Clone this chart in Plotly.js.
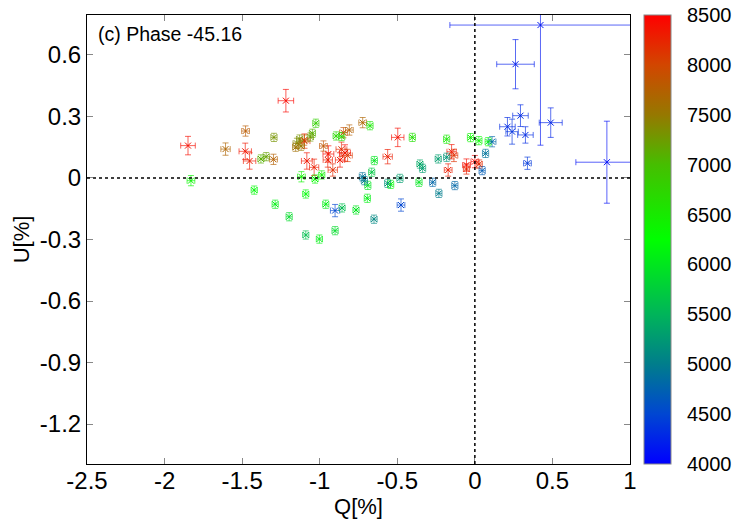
<!DOCTYPE html>
<html><head><meta charset="utf-8">
<script src="https://cdn.plot.ly/plotly-3.0.1.min.js"></script>
<style>body{margin:0;background:#fff}#chart{width:747px;height:523px}</style>
</head><body><div id="chart"></div>
<script>
// Q[%], U[%], errors and wavelength (colour)
const Q  = [-1.218,-1.849,-1.48,-1.452,-1.098,-1.083,-1.036,-0.944,-0.948,-0.916,-0.837,-0.869,-0.86,-0.82,-0.497,-0.562,-0.15,-0.172,-0.054,-0.054,0.0,0.028,-0.135,
 -1.478,-1.607,-1.298,-0.976,-0.847,-0.809,-0.723,-1.1,
 -1.295,-1.379,-1.345,-1.147,-1.13,-1.12,-1.155,-1.047,-1.06,
 -1.025,-0.894,-0.858,-0.676,-0.403,-0.182,-0.028,0.026,0.086,-0.648,-1.83,-1.422,-1.287,-1.197,-1.118,-1.09,-1.03,-0.987,-0.961,-0.766,-0.693,-0.69,-0.543,-0.36,-1.002,-0.901,
 -1.09,-0.856,-0.665,-0.354,-0.337,
 -0.65,-0.562,-0.483,-0.725,-0.712,-0.236,-0.182,-0.232,-0.272,-0.129,0.069,0.047,0.111,
 -0.901,-0.476,0.423,0.262,0.294,0.21,0.24,0.326,0.489,0.339,0.851];
const U  = [0.377,0.158,0.130,0.083,0.18,0.083,0.052,0.117,0.088,0.039,0.122,0.088,0.14,0.11,0.198,0.104,0.128,0.039,0.063,0.044,0.08,0.068,0.11,
 0.229,0.141,0.091,0.156,0.221,0.234,0.27,0.185,
 0.198,0.093,0.104,0.169,0.19,0.155,0.15,0.218,0.2,
 0.267,0.205,0.202,0.255,0.198,0.189,0.197,0.182,0.177,0.085,-0.013,-0.059,-0.128,-0.189,0.006,-0.078,-0.005,0.015,-0.128,-0.156,-0.099,-0.036,-0.031,-0.021,-0.298,-0.257,
 -0.278,-0.146,0.028,0.068,0.047,
 -0.201,-0.026,-0.002,0.006,-0.013,0.093,0.101,-0.075,-0.021,-0.037,0.12,0.036,0.177,
 -0.159,-0.132,0.746,0.555,0.304,0.25,0.226,0.21,0.27,0.072,0.077];
const EQ = [0.05,0.047,0.04,0.04,0.035,0.035,0.03,0.035,0.03,0.03,0.035,0.03,0.035,0.03,0.04,0.03,0.03,0.025,0.025,0.02,0.025,0.02,0.025,
 0.025,0.03,0.025,0.025,0.025,0.025,0.025,0.025,
 0.02,0.02,0.02,0.025,0.02,0.02,0.02,0.02,0.02,
 0.02,0.02,0.02,0.02,0.02,0.02,0.02,0.02,0.02,0.02,0.025,0.02,0.02,0.02,0.025,0.02,0.02,0.02,0.02,0.02,0.02,0.02,0.02,0.02,0.02,0.02,
 0.02,0.02,0.02,0.02,0.02,
 0.02,0.02,0.02,0.02,0.02,0.02,0.02,0.02,0.02,0.02,0.02,0.02,0.025,
 0.03,0.025,0.584,0.121,0.05,0.05,0.04,0.05,0.074,0.025,0.2];
const EU = [0.055,0.045,0.04,0.04,0.035,0.04,0.04,0.04,0.035,0.03,0.04,0.035,0.035,0.03,0.045,0.035,0.035,0.03,0.03,0.025,0.03,0.02,0.03,
 0.025,0.03,0.025,0.025,0.025,0.025,0.025,0.025,
 0.02,0.02,0.02,0.025,0.02,0.02,0.02,0.02,0.02,
 0.02,0.02,0.02,0.02,0.02,0.02,0.02,0.02,0.02,0.02,0.025,0.02,0.02,0.02,0.025,0.02,0.02,0.02,0.02,0.02,0.02,0.02,0.02,0.02,0.02,0.02,
 0.02,0.02,0.02,0.02,0.02,
 0.02,0.02,0.02,0.02,0.02,0.02,0.02,0.02,0.02,0.02,0.02,0.02,0.025,
 0.03,0.03,0.586,0.12,0.053,0.045,0.061,0.04,0.072,0.03,0.2];
const WL = [8450,8400,8350,8300,8250,8350,8300,8400,8300,8200,8450,8350,8200,8100,8400,8300,8350,8300,8400,8250,8450,8200,8150,
 7800,7700,7750,7850,7900,7750,7700,7800,
 7300,7100,7200,7400,7300,7500,7600,7100,7250,
 6800,6700,6600,6500,6600,6500,6400,6300,6200,6000,6350,6200,6100,5900,6400,6200,6300,6400,6100,6000,6100,6000,6200,6000,6100,5900,
 5600,5600,5700,5400,5300,
 5100,5200,5300,4900,5000,5300,5200,5000,4800,4800,4900,4700,4800,
 4500,4500,4150,4200,4300,4300,4350,4300,4250,4400,4100];
const CB_TICKS = [4000,4500,5000,5500,6000,6500,7000,7500,8000,8500];
const X_TICKS = [-2.5,-2,-1.5,-1,-0.5,0,0.5,1];
const Y_TICKS = [0.6,0.3,0,-0.3,-0.6,-0.9,-1.2];

const WMIN=4000, WMAX=8500;
const SCALE = [[0,'rgb(0,0,255)'],[0.111,'rgb(0,70,210)'],[0.222,'rgb(0,125,140)'],[0.333,'rgb(0,180,90)'],
 [0.5,'rgb(0,255,0)'],[0.667,'rgb(70,190,0)'],[0.778,'rgb(150,120,0)'],[0.889,'rgb(210,70,0)'],[1,'rgb(255,0,0)']];
function colorOf(w){
  const t=Math.max(0,Math.min(1,(w-WMIN)/(WMAX-WMIN)));
  for(let i=1;i<SCALE.length;i++){
    if(t<=SCALE[i][0]){
      const a=SCALE[i-1], b=SCALE[i];
      const f=(t-a[0])/(b[0]-a[0]);
      const ca=a[1].match(/\d+/g).map(Number), cb=b[1].match(/\d+/g).map(Number);
      const c=ca.map((v,k)=>Math.round(v+(cb[k]-v)*f));
      return 'rgba('+c[0]+','+c[1]+','+c[2]+',0.65)';
    }
  }
  return 'rgba(255,0,0,0.65)';
}

const traces=[];
for(let i=0;i<Q.length;i++){
  const col=colorOf(WL[i]);
  traces.push({type:'scatter',mode:'lines',x:[Q[i]],y:[U[i]],showlegend:false,hoverinfo:'skip',
    line:{color:col,width:1},
    error_x:{type:'data',array:[EQ[i]],color:col,thickness:1,width:3},
    error_y:{type:'data',array:[EU[i]],color:col,thickness:1,width:3}});
}
traces.push({type:'scatter',mode:'markers',x:Q,y:U,showlegend:false,
  marker:{symbol:'x-thin-open',size:6,color:WL,cmin:WMIN,cmax:WMAX,colorscale:SCALE,line:{width:1},
    showscale:true,
    colorbar:{x:1.026,xanchor:'left',y:0.5,yanchor:'middle',len:1,lenmode:'fraction',thickness:27,
      outlinewidth:1,outlinecolor:'#888',tickvals:CB_TICKS,ticks:'outside',ticklen:12,tickcolor:'rgba(0,0,0,0)',
      tickfont:{family:'Liberation Sans, Arial, sans-serif',size:20,color:'#000'},xpad:0,ypad:0}}});

const layout={
  width:747,height:523,
  margin:{l:87,r:117,t:15,b:59},
  paper_bgcolor:'#fff',plot_bgcolor:'#fff',
  font:{family:'Liberation Sans, Arial, sans-serif',color:'#000'},
  xaxis:{range:[-2.5,1],tickvals:X_TICKS,ticktext:X_TICKS.map(String),ticks:'inside',ticklen:6,tickcolor:'#888',
    showgrid:false,zeroline:false,showline:true,linecolor:'#000',linewidth:1,mirror:'ticks',ticklabelstandoff:-5,
    tickfont:{size:24},title:{text:'Q[%]',font:{size:22},standoff:4}},
  yaxis:{range:[-1.395,0.795],tickvals:Y_TICKS,ticktext:Y_TICKS.map(String),ticks:'inside',ticklen:6,tickcolor:'#888',
    showgrid:false,zeroline:false,showline:true,linecolor:'#000',linewidth:1,mirror:'ticks',
    tickfont:{size:24},title:{text:'U[%]',font:{size:22},standoff:4}},
  shapes:[
    {type:'line',xref:'x',yref:'paper',x0:0,x1:0,y0:0,y1:1,line:{color:'#000',width:1.5,dash:'3px,3px'}},
    {type:'line',xref:'paper',yref:'y',x0:0,x1:1,y0:0,y1:0,line:{color:'#000',width:1.5,dash:'3px,3px'}}
  ],
  annotations:[{xref:'paper',yref:'paper',x:0.016,y:0.987,xanchor:'left',yanchor:'top',showarrow:false,
    text:'(c) Phase -45.16',font:{size:19.5,color:'#000'}}]
};
Plotly.newPlot('chart',traces,layout,{displayModeBar:false,staticPlot:true});
</script></body></html>
